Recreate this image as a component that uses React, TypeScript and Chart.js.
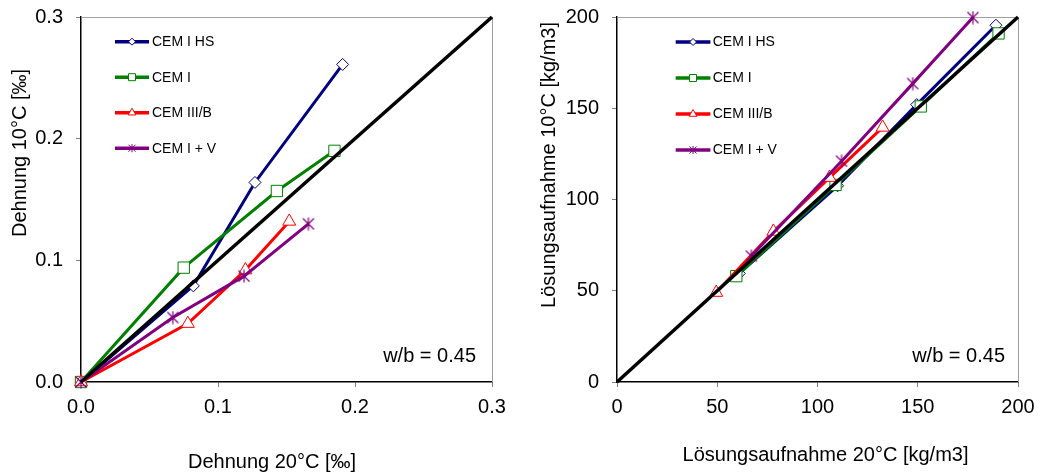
import React, { useEffect, useRef } from 'react';
import { Chart, registerables } from 'chart.js';

Chart.register(...registerables);

const FONT = "'Liberation Sans', Arial, Helvetica, sans-serif";

const seriesNames = ['CEM I HS', 'CEM I', 'CEM III/B', 'CEM I + V'];
const seriesColors = ['#000080', '#008000', '#FF0000', '#800080'];

// Left chart: Dehnung (‰)
const dehnung20_HS = [0, 0.082, 0.127, 0.191];
const dehnung10_HS = [0, 0.079, 0.164, 0.261];
const dehnung20_CEMI = [0, 0.075, 0.143, 0.185];
const dehnung10_CEMI = [0, 0.094, 0.157, 0.19];
const dehnung20_IIIB = [0, 0.078, 0.12, 0.152];
const dehnung10_IIIB = [0, 0.048, 0.092, 0.132];
const dehnung20_V = [0, 0.067, 0.119, 0.166];
const dehnung10_V = [0, 0.053, 0.087, 0.13];
const dehnungDiagonal = [0, 0.3];
const dehnungTicks = [0, 0.1, 0.2, 0.3];
const dehnungTickLabels = ['0.0', '0.1', '0.2', '0.3'];

// Right chart: Lösungsaufnahme (kg/m3)
const loesung20_HS = [61, 110, 149.5, 189];
const loesung10_HS = [59.5, 107.5, 152, 195.5];
const loesung20_CEMI = [59.5, 109, 151.5, 190.3];
const loesung10_CEMI = [58, 108, 151, 191];
const loesung20_IIIB = [49.5, 78, 106, 132.5];
const loesung10_IIIB = [49, 82.5, 112, 139.5];
const loesung20_V = [67, 112, 147.5, 177.5];
const loesung10_V = [69, 121, 163.5, 199.7];
const loesungDiagonal = [0, 200];
const loesungTicks = [0, 50, 100, 150, 200];
const loesungTickLabels = ['0', '50', '100', '150', '200'];

const markerStyles = ['rectRot', 'rect', 'triangle', 'star'];
const markerRadii = [6, 8, 7.5, 0];

function makeStar(color: string, size: number) {
  const c = document.createElement('canvas');
  c.width = size;
  c.height = size;
  const g = c.getContext('2d')!;
  g.strokeStyle = color;
  g.lineWidth = 1.2;
  const m = size / 2;
  const r = size / 2 - 0.5;
  const d = r * 0.85;
  g.beginPath();
  g.moveTo(m - d, m - d);
  g.lineTo(m + d, m + d);
  g.moveTo(m + d, m - d);
  g.lineTo(m - d, m + d);
  g.moveTo(m, m - r);
  g.lineTo(m, m + r);
  g.stroke();
  return c;
}

function drawMini(ctx: CanvasRenderingContext2D, style: string, x: number, y: number, color: string) {
  ctx.save();
  ctx.strokeStyle = color;
  ctx.fillStyle = '#fff';
  ctx.lineWidth = 1;
  ctx.beginPath();
  if (style === 'rectRot') {
    const r = 3.5;
    ctx.moveTo(x - r, y);
    ctx.lineTo(x, y - r);
    ctx.lineTo(x + r, y);
    ctx.lineTo(x, y + r);
    ctx.closePath();
    ctx.fill();
    ctx.stroke();
  } else if (style === 'rect') {
    ctx.rect(x - 3.5, y - 3.5, 7, 7);
    ctx.fill();
    ctx.stroke();
  } else if (style === 'triangle') {
    const r = 4.5;
    ctx.moveTo(x, y - r);
    ctx.lineTo(x + r * 0.866, y + r / 2);
    ctx.lineTo(x - r * 0.866, y + r / 2);
    ctx.closePath();
    ctx.fill();
    ctx.stroke();
  } else {
    const r = 3.5;
    ctx.moveTo(x - r, y - r);
    ctx.lineTo(x + r, y + r);
    ctx.moveTo(x + r, y - r);
    ctx.lineTo(x - r, y + r);
    ctx.moveTo(x, y - r - 0.5);
    ctx.lineTo(x, y + r + 0.5);
    ctx.stroke();
  }
  ctx.restore();
}

type PanelCfg = {
  key: string;
  xs: number[][];
  ys: number[][];
  diag: number[];
  min: number;
  max: number;
  tickValues: number[];
  tickLabels: string[];
  padRight: number;
  yAxisWidth: number;
  xTitle: string;
  yTitle: string;
  xTitleX: number;
  xTitleBase: number;
  yTitleBase: number;
  yTitleY: number;
  legX1: number;
  legX2: number;
  legText: number;
  legTop: number;
  legGap: number;
  wbDx: number;
};

function overlay(o: PanelCfg) {
  return {
    id: 'overlay_' + o.key,
    beforeDatasetsDraw(chart: any) {
      const { ctx, chartArea: a } = chart;
      ctx.save();
      ctx.strokeStyle = '#a0a0a0';
      ctx.lineWidth = 1;
      const t = Math.round(a.top) + 0.5;
      const r = Math.round(a.right) + 0.5;
      ctx.beginPath();
      ctx.moveTo(a.left, t);
      ctx.lineTo(r, t);
      ctx.lineTo(r, a.bottom);
      ctx.stroke();
      ctx.restore();
    },
    afterDraw(chart: any) {
      const { ctx, chartArea: a } = chart;
      ctx.save();
      // legend
      ctx.font = `14px ${FONT}`;
      ctx.textBaseline = 'middle';
      ctx.textAlign = 'left';
      seriesNames.forEach((name, i) => {
        const y = a.top + o.legTop + i * o.legGap;
        ctx.strokeStyle = seriesColors[i];
        ctx.lineWidth = 3.5;
        ctx.beginPath();
        ctx.moveTo(a.left + o.legX1, y);
        ctx.lineTo(a.left + o.legX2, y);
        ctx.stroke();
        drawMini(ctx, markerStyles[i], a.left + (o.legX1 + o.legX2) / 2, y, seriesColors[i]);
        ctx.fillStyle = '#000';
        ctx.fillText(name, a.left + o.legText, y + 0.5);
      });
      // w/b label
      ctx.font = `20px ${FONT}`;
      ctx.textAlign = 'right';
      ctx.textBaseline = 'alphabetic';
      ctx.fillStyle = '#000';
      ctx.fillText('w/b = 0.45', a.right + o.wbDx, a.bottom - 20);
      // axis titles
      ctx.textAlign = 'center';
      ctx.fillText(o.xTitle, o.xTitleX, o.xTitleBase);
      ctx.translate(o.yTitleBase, o.yTitleY);
      ctx.rotate(-Math.PI / 2);
      ctx.fillText(o.yTitle, 0, 0);
      ctx.restore();
    },
  };
}

function buildConfig(o: PanelCfg, star: HTMLCanvasElement) {
  const datasets: any[] = seriesNames.map((name, i) => ({
    label: name,
    data: o.xs[i].map((x, k) => ({ x, y: o.ys[i][k] })),
    showLine: true,
    borderColor: seriesColors[i],
    backgroundColor: '#fff',
    borderWidth: 3,
    pointStyle: markerStyles[i] === 'star' ? star : markerStyles[i],
    pointRadius: markerRadii[i] || 6,
    pointBorderColor: seriesColors[i],
    pointBackgroundColor: '#fff',
    pointBorderWidth: 1,
    tension: 0,
    clip: false,
    order: 4 - i,
  }));
  datasets.push({
    label: 'diag',
    data: o.diag.map((v) => ({ x: v, y: v })),
    showLine: true,
    borderColor: '#000',
    borderWidth: 3.5,
    pointRadius: 0,
    clip: false,
    order: 0,
  });
  const tickFont = { family: FONT, size: 20 };
  const axis = (isX: boolean) => ({
    type: 'linear',
    min: o.min,
    max: o.max,
    afterBuildTicks: (s: any) => {
      s.ticks = o.tickValues.map((v) => ({ value: v }));
    },
    ticks: {
      font: tickFont,
      color: '#000',
      padding: isX ? 8 : 13,
      callback: (_v: any, i: number) => o.tickLabels[i],
    },
    grid: { drawOnChartArea: false, drawTicks: true, tickLength: 5, color: '#808080' },
    border: { display: true, color: '#000', width: 1.5 },
    afterFit: (s: any) => {
      if (isX) s.height = 90;
      else s.width = o.yAxisWidth;
      s.paddingTop = 0;
      s.paddingBottom = 0;
      s.paddingLeft = 0;
      s.paddingRight = 0;
    },
  });
  return {
    type: 'scatter',
    data: { datasets },
    options: {
      animation: false,
      responsive: false,
      devicePixelRatio: 1,
      layout: { padding: { left: 0, top: 17, right: o.padRight, bottom: 0 } },
      plugins: { legend: { display: false }, tooltip: { enabled: false } },
      scales: { x: axis(true), y: axis(false) },
    },
    plugins: [overlay(o)],
  };
}

const leftCfg: PanelCfg = {
  key: 'left',
  xs: [dehnung20_HS, dehnung20_CEMI, dehnung20_IIIB, dehnung20_V],
  ys: [dehnung10_HS, dehnung10_CEMI, dehnung10_IIIB, dehnung10_V],
  diag: dehnungDiagonal,
  min: 0,
  max: 0.3,
  tickValues: dehnungTicks,
  tickLabels: dehnungTickLabels,
  padRight: 28,
  yAxisWidth: 81,
  xTitle: 'Dehnung 20°C [‰]',
  yTitle: 'Dehnung 10°C [‰]',
  xTitleX: 272,
  xTitleBase: 468,
  yTitleBase: 26,
  yTitleY: 153,
  legX1: 34,
  legX2: 68,
  legText: 71,
  legTop: 24.7,
  legGap: 35.5,
  wbDx: -16,
};

const rightCfg: PanelCfg = {
  key: 'right',
  xs: [loesung20_HS, loesung20_CEMI, loesung20_IIIB, loesung20_V],
  ys: [loesung10_HS, loesung10_CEMI, loesung10_IIIB, loesung10_V],
  diag: loesungDiagonal,
  min: 0,
  max: 200,
  tickValues: loesungTicks,
  tickLabels: loesungTickLabels,
  padRight: 22,
  yAxisWidth: 97,
  xTitle: 'Lösungsaufnahme 20°C [kg/m3]',
  yTitle: 'Lösungsaufnahme 10°C [kg/m3]',
  xTitleX: 305.5,
  xTitleBase: 461,
  yTitleBase: 35,
  yTitleY: 165,
  legX1: 58.7,
  legX2: 93.4,
  legText: 95.7,
  legTop: 25,
  legGap: 36,
  wbDx: -13,
};

function Panel({ cfg }: { cfg: PanelCfg }) {
  const ref = useRef<HTMLCanvasElement>(null);
  useEffect(() => {
    if (!ref.current) return;
    const star = makeStar(seriesColors[3], 14);
    const chart = new Chart(ref.current, buildConfig(cfg, star) as any);
    return () => chart.destroy();
  }, [cfg]);
  return (
    <canvas
      ref={ref}
      width={520}
      height={472}
      style={{ display: 'block', width: 520, height: 472 }}
    />
  );
}

export default function App() {
  return (
    <div
      style={{
        position: 'absolute',
        left: 0,
        top: 0,
        width: 1040,
        height: 472,
        background: '#fff',
        display: 'flex',
        flexDirection: 'row',
      }}
    >
      <Panel cfg={leftCfg} />
      <Panel cfg={rightCfg} />
    </div>
  );
}
